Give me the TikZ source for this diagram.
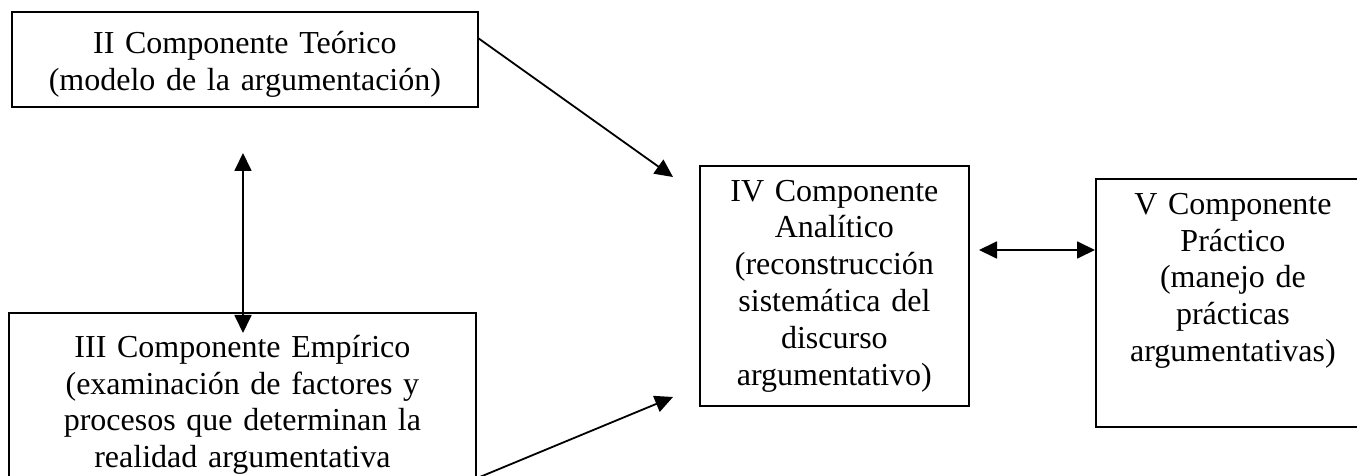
\documentclass[tikz,border=0pt]{standalone}
\usepackage{fontspec}
\setmainfont{Liberation Serif}
\usetikzlibrary{arrows.meta}
\begin{document}
\begin{tikzpicture}[x=0.5pt,y=-0.5pt,
    comp/.style={draw,line width=0.9pt,inner xsep=0pt,align=center,
        font=\fontsize{16}{18.4}\selectfont,anchor=north west},
    link/.style={line width=0.9pt,-{Triangle[length=9pt,width=8.5pt]}},
    dlink/.style={line width=0.9pt,{Triangle[length=9pt,width=8.5pt]}-{Triangle[length=9pt,width=8.5pt]}}]
        \useasboundingbox (0,0) rectangle (1357,476);
        \node[comp,minimum width=233pt,minimum height=47.5pt,text width=225pt] (teorico) at (11,11)
            {\rule{0pt}{16pt}II Componente Teórico\\(modelo de la argumentación)};
        \node[comp,minimum width=233.5pt,minimum height=90pt,text width=225pt] (empirico) at (8,312)
            {\rule{0pt}{13pt}III Componente Empírico\\(examinación de factores y\\procesos que determinan la\\realidad argumentativa};
        \node[comp,minimum width=134.5pt,minimum height=120pt,text width=130pt] (analitico) at (699,165)
            {IV Componente\\Analítico\\(reconstrucción\\sistemática del\\discurso\\argumentativo)};
        \node[comp,minimum width=137pt,minimum height=124pt,text width=130pt] (practico) at (1095,178)
            {V Componente\\Práctico\\(manejo de\\prácticas\\argumentativas)\\[1.6pt]\strut};
        \coordinate (teoricoOut) at (478,38);
        \coordinate (analiticoInA) at (673,177);
        \coordinate (empiricoOut) at (475,479);
        \coordinate (analiticoInB) at (673,397);
        \coordinate (vTop) at (243,153);
        \coordinate (vBot) at (243,333);
        \coordinate (hLeft) at (979,250);
        \coordinate (hRight) at (1095,250);
        \draw[link] (teoricoOut) -- (analiticoInA);
        \draw[link] (empiricoOut) -- (analiticoInB);
        \draw[dlink] (vTop) -- (vBot);
        \draw[dlink] (hLeft) -- (hRight);
\end{tikzpicture}
\end{document}
